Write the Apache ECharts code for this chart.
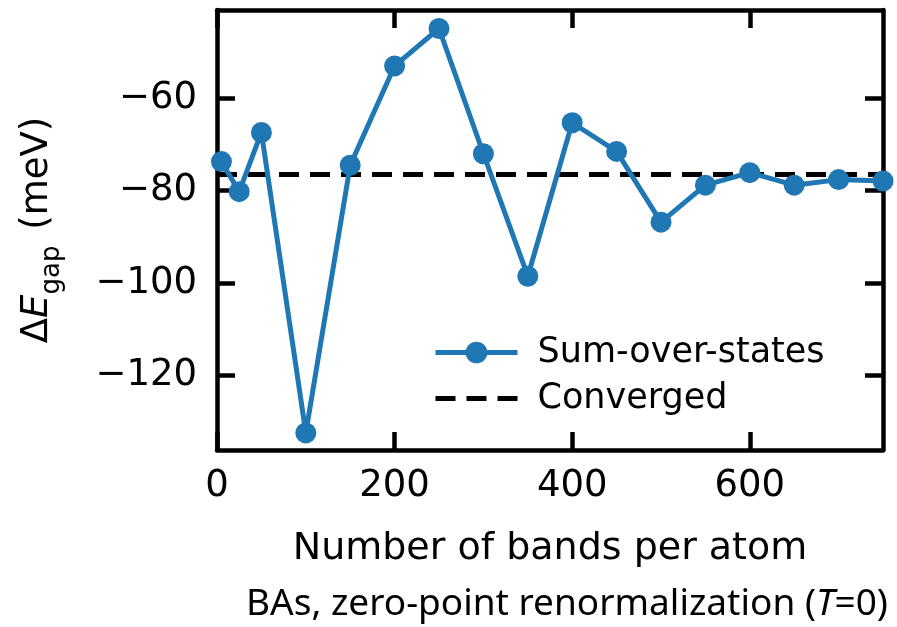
<!DOCTYPE html>
<html>
<head>
<meta charset="utf-8">
<script src="https://cdn.jsdelivr.net/npm/echarts@6/dist/echarts.min.js"></script>
<style>
  html, body { margin: 0; padding: 0; background: #fff; }
  #box { width: 897px; height: 627px; }
</style>
</head>
<body>
<div id="box"></div>
<script>
// bands per atom
var bands = [5, 25, 50, 100, 150, 200, 250, 300, 350, 400, 450, 500, 550, 600, 650, 700, 750];
// zero-point renormalization of the gap (meV)
var gapShift = [-73.7, -80.2, -67.4, -132.4, -74.5, -53.0, -44.9, -72.0, -98.5, -65.3, -71.5, -86.8, -78.8, -76.1, -78.8, -77.6, -77.9];
var converged = -76.5;
var xTicks = [0, 200, 400, 600];
var yTicks = [-120, -100, -80, -60];

var font = 'DejaVu Sans';
var myChart = echarts.init(document.getElementById('box'));

var sosData = bands.map(function (b, i) { return [b, gapShift[i]]; });

var axisLine = { show: true, onZero: false, lineStyle: { color: '#000', width: 4.5 } };
var tickIn = { show: true, inside: true, length: 18, lineStyle: { color: '#000', width: 4.5 } };

var option = {
    animation: false,
    grid: { left: 217, right: 14, top: 10, bottom: 177, containLabel: false },
    legend: {
        orient: 'vertical',
        left: 428,
        top: 330,
        itemWidth: 82,
        itemHeight: 27,
        itemGap: 11,
        lineStyle: { width: 5 },
        textStyle: { fontFamily: font, fontSize: 35, color: '#000', padding: [0, 0, 0, 15] },
        data: [
            'Sum-over-states',
            { name: 'Converged', itemStyle: { opacity: 0 } }
        ]
    },
    xAxis: [{
        type: 'value',
        min: 0, max: 750,
        name: 'Number of bands per atom',
        nameLocation: 'middle',
        nameGap: 80,
        nameTextStyle: { fontFamily: font, fontSize: 38, color: '#000' },
        axisLine: axisLine,
        axisTick: Object.assign({ customValues: xTicks }, tickIn),
        axisLabel: { customValues: xTicks, fontFamily: font, fontSize: 37, color: '#000', margin: 18 },
        splitLine: { show: false }
    }, {
        type: 'value',
        position: 'top',
        min: 0, max: 750,
        axisLine: axisLine,
        axisTick: Object.assign({ customValues: xTicks }, tickIn),
        axisLabel: { show: false },
        splitLine: { show: false }
    }],
    yAxis: [{
        type: 'value',
        min: -136.1, max: -40.9,
        name: '{n|Δ}{i|E}{s|gap}{n| (meV)}',
        nameLocation: 'middle',
        nameRotate: 90,
        nameGap: 152,
        nameTextStyle: {
            fontFamily: font, fontSize: 37, color: '#000',
            rich: {
                n: { fontFamily: font, fontSize: 37, color: '#000' },
                i: { fontFamily: font, fontSize: 37, fontStyle: 'italic', color: '#000' },
                s: { fontFamily: font, fontSize: 26, color: '#000', padding: [30, 4, 0, 0] }
            }
        },
        axisLine: axisLine,
        axisTick: Object.assign({ customValues: yTicks }, tickIn),
        axisLabel: {
            customValues: yTicks, fontFamily: font, fontSize: 37, color: '#000', margin: 20,
            formatter: function (v) { return String(v).replace('-', '\u2212'); }
        },
        splitLine: { show: false }
    }, {
        type: 'value',
        position: 'right',
        min: -136.1, max: -40.9,
        axisLine: axisLine,
        axisTick: Object.assign({ customValues: yTicks }, tickIn),
        axisLabel: { show: false },
        splitLine: { show: false }
    }],
    series: [{
        name: 'Sum-over-states',
        type: 'line',
        data: sosData,
        symbol: 'circle',
        symbolSize: 21,
        clip: true,
        z: 3,
        lineStyle: { color: '#1f77b4', width: 5 },
        itemStyle: { color: '#1f77b4' }
    }, {
        name: 'Converged',
        type: 'line',
        data: [[0, converged], [750, converged]],
        symbol: 'none',
        z: 2,
        lineStyle: { color: '#000', width: 5, type: [20, 11] },
        itemStyle: { color: '#000' }
    }],
    graphic: [{
        type: 'text',
        left: 246,
        top: 586,
        style: {
            text: '{n|BAs, zero-point renormalization (}{i|T}{n|=0)}',
            rich: {
                n: { fontFamily: 'Noto Sans', fontSize: 37, fill: '#000' },
                i: { fontFamily: 'Noto Sans', fontSize: 37, fontStyle: 'italic', fill: '#000' }
            }
        }
    }]
};

myChart.setOption(option);
</script>
</body>
</html>
